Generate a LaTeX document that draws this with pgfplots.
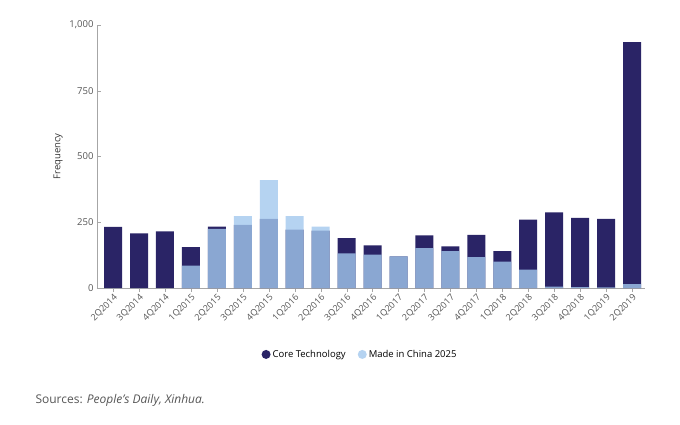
\documentclass[border=0pt]{standalone}
\usepackage{pgfplots}
\pgfplotsset{compat=1.18}
\usepackage{fontspec}
\setmainfont{Open Sans}
\definecolor{navy}{HTML}{2A2466}
\definecolor{lblue}{HTML}{A3C8EE}
\definecolor{txt}{HTML}{555555}
\begin{document}
\begin{tikzpicture}[x=1pt,y=1pt]
\path[use as bounding box] (-97,-136) rectangle (583,288);
\begin{axis}[at={(0,0)},anchor=south west,
  scale only axis, width=548pt, height=263pt,
  xmin=-0.62, xmax=20.5, ymin=0, ymax=1000,
  axis x line*=bottom, axis y line*=left,
  axis line style={draw=gray!70},
  xtick={0,...,20},
  xticklabels={2Q2014,3Q2014,4Q2014,1Q2015,2Q2015,3Q2015,4Q2015,1Q2016,2Q2016,3Q2016,4Q2016,1Q2017,2Q2017,3Q2017,4Q2017,1Q2018,2Q2018,3Q2018,4Q2018,1Q2019,2Q2019},
  x tick label style={rotate=45,anchor=north east,font=\fontsize{9}{10}\selectfont,text=txt,inner sep=1pt},
  ytick={0,250,500,750,1000},
  yticklabels={0,250,500,750,{1,000}},
  y tick label style={font=\fontsize{9.5}{10}\selectfont,text=txt},
  tick style={draw=gray!70},
  major tick length=4pt,
  xtick pos=bottom, ytick pos=left,
  ylabel={Frequency}, ylabel style={font=\fontsize{9.5}{10}\selectfont,text=black!80},
  /pgf/number format/assume math mode=true,
  ybar, bar shift=0pt, bar width=18pt,
  legend style={at={(0.48,-0.22)},anchor=north,draw=none,legend columns=2,
    font=\fontsize{9.5}{10}\selectfont,/tikz/every even column/.append style={column sep=10pt}},
  legend image code/.code={\fill[#1] (0pt,0pt) circle (4.5pt);},
]
\addplot[fill=navy,draw=none] coordinates {(0,232)(1,208)(2,215)(3,155)(4,233)(5,240)(6,263)(7,222)(8,218)(9,190)(10,162)(11,120)(12,200)(13,158)(14,202)(15,140)(16,260)(17,288)(18,267)(19,263)(20,935)};
\addlegendentry{Core Technology}
\addplot[fill=lblue,draw=none,fill opacity=0.8] coordinates {(0,0)(1,0)(2,0)(3,85)(4,225)(5,273)(6,410)(7,273)(8,233)(9,132)(10,127)(11,120)(12,152)(13,140)(14,117)(15,100)(16,70)(17,5)(18,3)(19,2)(20,15)};
\addlegendentry{Made in China 2025}
\end{axis}
\node[anchor=west,text=txt,font=\fontsize{12}{13}\selectfont] at (-65,-112) {Sources: \textit{People’s Daily, Xinhua.}};
\end{tikzpicture}
\end{document}
